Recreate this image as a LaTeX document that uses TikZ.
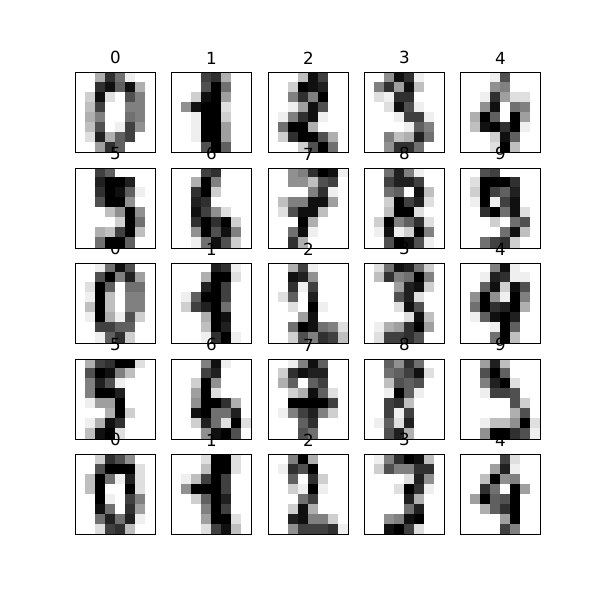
\documentclass[tikz,border=0pt]{standalone}
\usepackage{fontspec}
\setmainfont{DejaVu Sans}
\usetikzlibrary{positioning}

\begin{document}
\begin{tikzpicture}
    [x=0.01in, y=-0.01in,
     panel/.style={draw=black, line width=0.01in, rectangle, inner sep=0pt, outer sep=0pt, minimum size=0.8in},
     caption/.style={inner sep=0pt, outer sep=0pt, text=black, font=\fontsize{12bp}{14bp}\selectfont}]
    \useasboundingbox (0,0) rectangle (600,600);

    \foreach \pixels [count=\k from 0] in {
        {0,0,5,13,9,1,0,0, 0,0,13,15,10,15,5,0, 0,3,15,2,0,11,8,0, 0,4,12,0,0,8,8,0, 0,5,8,0,0,9,8,0, 0,4,11,0,1,12,7,0, 0,2,14,5,10,12,0,0, 0,0,6,13,10,0,0,0},
        {0,0,0,12,13,5,0,0, 0,0,0,11,16,9,0,0, 0,0,3,15,16,6,0,0, 0,7,15,16,16,2,0,0, 0,0,1,16,16,3,0,0, 0,0,1,16,16,6,0,0, 0,0,1,16,16,6,0,0, 0,0,0,11,16,10,0,0},
        {0,0,0,4,15,12,0,0, 0,0,3,16,15,14,0,0, 0,0,8,13,8,16,0,0, 0,0,1,6,15,11,0,0, 0,1,8,13,15,1,0,0, 0,9,16,16,5,0,0,0, 0,3,13,16,16,11,5,0, 0,0,0,3,11,16,9,0},
        {0,0,7,15,13,1,0,0, 0,8,13,6,15,4,0,0, 0,2,1,13,13,0,0,0, 0,0,2,15,11,1,0,0, 0,0,0,1,12,12,1,0, 0,0,0,0,1,10,8,0, 0,0,8,4,5,14,9,0, 0,0,7,13,13,9,0,0},
        {0,0,0,1,11,0,0,0, 0,0,0,7,8,0,0,0, 0,0,1,13,6,2,2,0, 0,0,7,15,0,9,8,0, 0,5,16,10,0,16,6,0, 0,4,15,16,13,16,1,0, 0,0,0,3,15,10,0,0, 0,0,0,2,16,4,0,0},
        {0,0,12,10,0,0,0,0, 0,0,14,16,16,14,0,0, 0,0,13,16,15,10,1,0, 0,0,11,16,16,7,0,0, 0,0,0,4,7,16,7,0, 0,0,0,0,3,16,9,0, 0,0,5,4,12,16,4,0, 0,0,9,16,16,10,0,0},
        {0,0,0,12,13,0,0,0, 0,0,5,16,8,0,0,0, 0,0,13,16,3,0,0,0, 0,0,14,13,0,0,0,0, 0,0,15,12,7,2,0,0, 0,0,13,16,13,16,3,0, 0,0,7,16,11,15,8,0, 0,0,1,9,15,11,3,0},
        {0,0,7,8,13,16,15,1, 0,0,7,7,4,11,12,0, 0,0,0,0,8,13,1,0, 0,4,8,8,15,15,6,0, 0,2,11,15,15,4,0,0, 0,0,0,16,5,0,0,0, 0,0,9,15,1,0,0,0, 0,0,13,5,0,0,0,0},
        {0,0,9,14,8,1,0,0, 0,0,12,14,14,12,0,0, 0,0,9,10,0,15,4,0, 0,0,3,16,12,14,2,0, 0,0,4,16,16,2,0,0, 0,3,16,8,10,13,2,0, 0,1,15,1,3,16,8,0, 0,0,11,16,15,11,1,0},
        {0,0,11,12,0,0,0,0, 0,2,16,16,16,13,0,0, 0,3,16,12,10,14,0,0, 0,1,16,1,12,15,0,0, 0,0,13,16,9,15,2,0, 0,0,0,3,0,9,11,0, 0,0,0,0,9,15,4,0, 0,0,9,12,13,3,0,0},
        {0,0,1,9,15,11,0,0, 0,0,11,16,8,14,6,0, 0,2,16,10,0,9,9,0, 0,1,16,4,0,8,8,0, 0,4,16,4,0,8,8,0, 0,1,16,5,1,11,3,0, 0,0,12,12,10,10,0,0, 0,0,1,10,13,3,0,0},
        {0,0,0,0,14,13,1,0, 0,0,0,5,16,16,2,0, 0,0,0,14,16,12,0,0, 0,1,10,16,16,12,0,0, 0,3,12,14,16,9,0,0, 0,0,0,5,16,15,0,0, 0,0,0,4,16,14,0,0, 0,0,0,1,13,16,1,0},
        {0,0,5,12,1,0,0,0, 0,0,15,14,7,0,0,0, 0,0,13,1,12,0,0,0, 0,2,10,0,14,0,0,0, 0,0,2,0,16,1,0,0, 0,0,0,6,15,0,0,0, 0,0,9,16,15,9,8,2, 0,0,3,11,8,13,12,4},
        {0,2,9,15,14,9,3,0, 0,4,13,8,9,16,8,0, 0,0,0,6,14,15,3,0, 0,0,0,11,14,2,0,0, 0,0,0,2,15,11,0,0, 0,0,0,0,2,15,4,0, 0,1,5,6,13,16,6,0, 0,2,12,12,13,11,0,0},
        {0,0,0,8,15,1,0,0, 0,0,1,14,13,1,1,0, 0,0,10,15,3,15,11,0, 0,7,16,7,1,16,8,0, 0,9,16,13,14,16,5,0, 0,1,10,15,16,14,0,0, 0,0,0,1,16,10,0,0, 0,0,0,9,16,4,0,0},
        {0,5,12,13,16,16,2,0, 0,11,16,15,8,4,0,0, 0,8,14,11,1,0,0,0, 0,8,16,16,14,0,0,0, 0,1,6,6,16,0,0,0, 0,0,0,5,16,3,0,0, 0,1,5,15,13,0,0,0, 0,4,15,16,2,0,0,0},
        {0,0,0,8,15,1,0,0, 0,0,0,12,14,0,0,0, 0,0,3,16,7,0,0,0, 0,0,6,16,2,0,0,0, 0,0,7,16,16,13,5,0, 0,0,15,16,9,9,14,0, 0,0,3,14,9,2,16,2, 0,0,0,7,15,16,11,0},
        {0,0,1,8,15,10,0,0, 0,3,13,15,14,14,0,0, 0,5,10,0,10,12,0,0, 0,0,3,5,15,10,2,0, 0,0,16,16,16,16,12,0, 0,1,8,12,14,8,3,0, 0,0,0,10,13,0,0,0, 0,0,0,11,9,0,0,0},
        {0,0,10,7,13,9,0,0, 0,0,9,10,12,15,2,0, 0,0,4,11,10,11,0,0, 0,0,1,16,10,1,0,0, 0,0,12,13,4,0,0,0, 0,0,12,1,12,0,0,0, 0,1,10,2,14,0,0,0, 0,0,11,14,5,0,0,0},
        {0,0,6,14,4,0,0,0, 0,0,11,16,10,0,0,0, 0,0,8,14,16,2,0,0, 0,0,1,12,12,11,0,0, 0,0,0,0,0,11,3,0, 0,0,0,0,0,5,11,0, 0,0,1,4,4,7,16,2, 0,0,7,16,16,13,11,1},
        {0,0,3,13,11,7,0,0, 0,0,11,16,16,16,2,0, 0,4,16,9,1,14,2,0, 0,4,16,0,0,16,2,0, 0,0,16,1,0,12,8,0, 0,0,15,9,0,13,6,0, 0,0,9,14,9,14,1,0, 0,0,2,12,13,4,0,0},
        {0,0,0,2,16,16,2,0, 0,0,0,4,16,16,2,0, 0,1,4,12,16,12,0,0, 0,7,16,16,16,12,0,0, 0,0,3,10,16,14,0,0, 0,0,0,8,16,12,0,0, 0,0,0,6,16,16,2,0, 0,0,0,2,12,15,4,0},
        {0,0,8,16,5,0,0,0, 0,1,13,11,16,0,0,0, 0,0,10,0,13,3,0,0, 0,0,3,1,16,1,0,0, 0,0,0,9,12,0,0,0, 0,0,3,15,5,0,0,0, 0,0,14,15,8,8,3,0, 0,0,7,12,12,12,13,1},
        {0,1,8,13,16,15,4,0, 0,3,11,8,8,13,13,0, 0,0,0,0,2,14,7,0, 0,0,0,2,16,13,1,0, 0,0,0,0,14,5,0,0, 0,0,0,0,9,14,0,0, 0,0,7,8,15,16,0,0, 0,0,15,16,12,2,0,0},
        {0,0,0,0,12,2,0,0, 0,0,0,6,14,1,0,0, 0,0,4,16,7,8,0,0, 0,0,13,9,0,16,6,0, 0,6,16,10,11,16,0,0, 0,0,5,10,13,16,0,0, 0,0,0,0,6,16,0,0, 0,0,0,0,12,8,0,0}}
    {
        \pgfmathsetmacro\leftx{{75,171,268,364,460}[mod(\k,5)]}
        \pgfmathsetmacro\topy{{72,168,263,359,454}[int(\k/5)]}
        \pgfmathsetmacro\rowoff{{0,1,1,1,0}[int(\k/5)]}
        % one cell per value, darker for larger values
        \foreach \v [count=\n from 0] in \pixels {
            \ifnum\v>0
                \pgfmathsetmacro\shade{100*\v/16}
                \pgfmathsetmacro\cellx{\leftx+10*mod(\n,8)}
                \pgfmathsetmacro\celltop{\topy+max(0,10*int(\n/8)-\rowoff)}
                \pgfmathsetmacro\cellbot{int(\n/8)==7 ? \topy+80 : \topy+10*(int(\n/8)+1)-\rowoff}
                \fill[black!\shade] (\cellx,\celltop) rectangle (\cellx+10,\cellbot);
            \fi
        }
        \node (panel\k) [panel] at (\leftx+40.5,\topy+40.5) {};
        \pgfmathtruncatemacro\digit{mod(\k,10)}
        \node (title\k) [caption, above = 6bp of panel\k.north] {\digit};
    }
\end{tikzpicture}
\end{document}
